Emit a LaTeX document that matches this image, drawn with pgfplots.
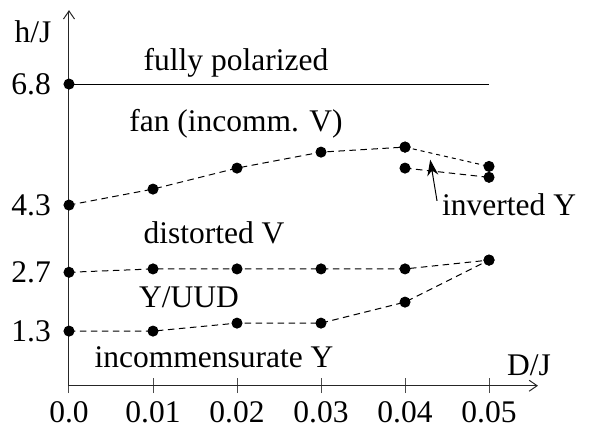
\documentclass[border=0pt]{standalone}
\usepackage{fontspec}
\setmainfont{Liberation Serif}
\usepackage{pgfplots}
\pgfplotsset{compat=1.18}
\usetikzlibrary{arrows.meta}
\begin{document}
\fontsize{31.5}{37}\selectfont
\begin{tikzpicture}
\begin{axis}[
  scale only axis,
  width=469pt, height=375.6pt,
  xmin=0, xmax=0.05583,
  ymin=0, ymax=8.94,
  axis lines=left,
  axis line style={line width=1pt, black!85},
  x axis line style={-{Straight Barb[length=8pt,width=11pt,line width=1pt]}},
  y axis line style={-{Straight Barb[length=8pt,width=11pt,line width=1pt]}},
  clip=false,
  scaled x ticks=false,
  scaled y ticks=false,
  xtick={0,0.01,0.02,0.03,0.04,0.05},
  xticklabels={0.0,0.01,0.02,0.03,0.04,0.05},
  ytick={1.3,2.7,4.3,7.18},
  yticklabels={1.3,2.7,4.3,6.8},
  tick align=center,
  major tick length=15pt,
  xtick style={line width=1pt, black!70},
  ytick style={draw=none},
  xticklabel style={yshift=2pt},
  /pgf/number format/assume math mode=true,
  every axis plot/.append style={line width=1pt, black},
]
% fully polarized
\addplot[solid] coordinates {(0,7.18) (0.05,7.18)};
\addplot[only marks, mark=*, mark size=5pt] coordinates {(0,7.18)};
% fan
\addplot[dash pattern=on 6.5pt off 4.5pt, mark=*, mark size=5pt, mark options={solid}]
  coordinates {(0,4.3) (0.01,4.68) (0.02,5.18) (0.03,5.56) (0.04,5.68)};
\addplot[dash pattern=on 4pt off 4pt, mark=*, mark size=5pt, mark options={solid}]
  coordinates {(0.04,5.68) (0.05,5.22)};
% inverted Y
\addplot[dash pattern=on 6.5pt off 4.5pt, mark=*, mark size=5pt, mark options={solid}]
  coordinates {(0.04,5.18) (0.05,4.96)};
% distorted V
\addplot[dash pattern=on 6.5pt off 4.5pt, mark=*, mark size=5pt, mark options={solid}]
  coordinates {(0,2.7) (0.01,2.78) (0.02,2.78) (0.03,2.78) (0.04,2.78) (0.05,2.99)};
% Y/UUD
\addplot[dash pattern=on 6.5pt off 4.5pt, mark=*, mark size=5pt, mark options={solid}]
  coordinates {(0,1.3) (0.01,1.3) (0.02,1.49) (0.03,1.49) (0.04,1.99) (0.05,2.99)};
% labels
\node at (axis cs:0.01988,7.68) {fully polarized};
\node at (axis cs:0.01988,6.23) {fan (incomm. V)};
\node at (axis cs:0.01726,3.63) {distorted V};
\node at (axis cs:0.01429,2.11) {Y/UUD};
\node at (axis cs:0.01726,0.68) {incommensurate Y};
\node[anchor=west, inner sep=0pt] at (axis cs:0.04440,4.30) {inverted Y};
\draw[line width=1pt, -{Stealth[length=16pt,width=11pt]}] (axis cs:0.04381,4.40) -- (axis cs:0.04300,5.38);
\node at (axis cs:0.05476,0.49) {D/J};
\node at (axis cs:-0.00429,8.42) {h/J};
% bounding box
\path (axis cs:-0.008214,-0.914) rectangle (axis cs:0.06226,9.181);
\end{axis}
\end{tikzpicture}
\end{document}
